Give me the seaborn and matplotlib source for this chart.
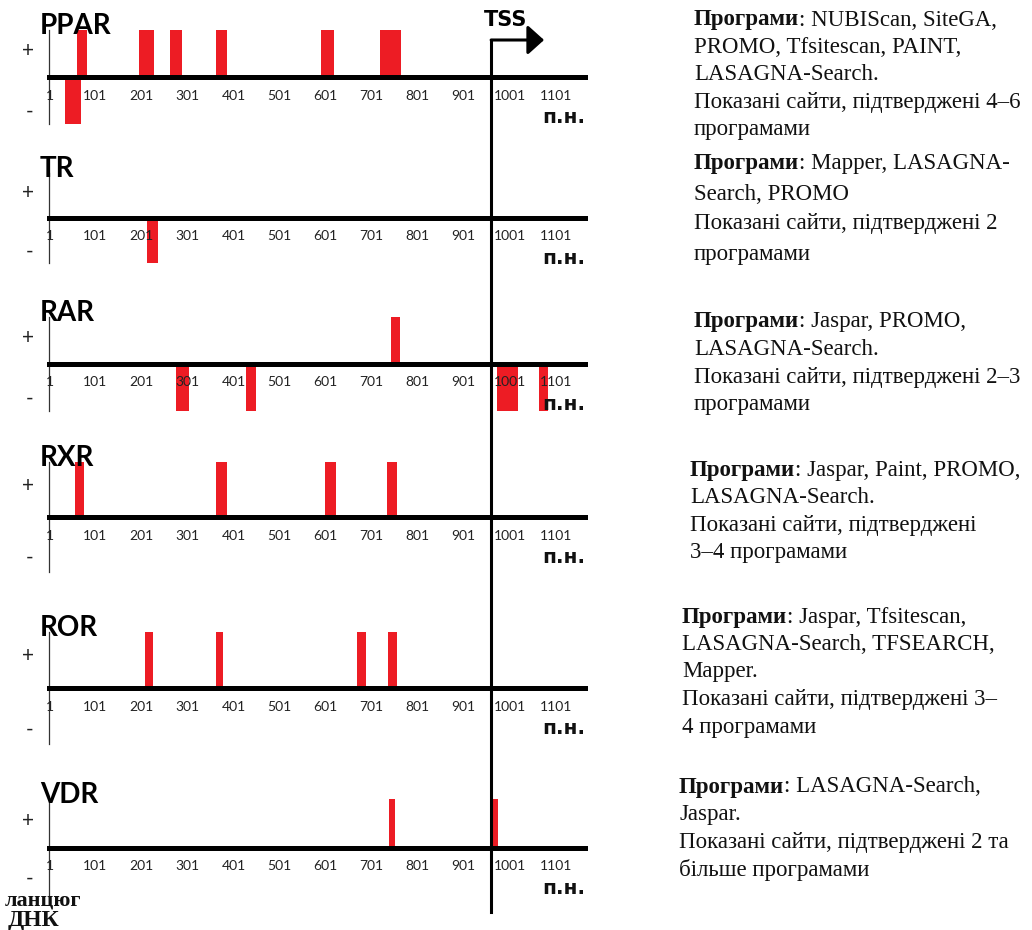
import numpy as np
import matplotlib.pyplot as plt
import seaborn as sns
from matplotlib.lines import Line2D
from matplotlib.transforms import blended_transform_factory

# binding sites: start / end (bp) and strand (+1 above, -1 below)
ppar_start = [61, 196, 263, 363, 591, 720, 35]
ppar_end = [83, 228, 289, 387, 620, 765, 70]
ppar_strand = [1, 1, 1, 1, 1, 1, -1]

tr_start = [213]
tr_end = [237]
tr_strand = [-1]

rar_start = [743, 276, 428, 974, 1065]
rar_end = [763, 305, 450, 1020, 1085]
rar_strand = [1, -1, -1, -1, -1]

rxr_start = [57, 363, 600, 735]
rxr_end = [76, 387, 624, 757]
rxr_strand = [1, 1, 1, 1]

ror_start = [209, 363, 670, 737]
ror_end = [225, 378, 689, 757]
ror_strand = [1, 1, 1, 1]

vdr_start = [739, 963]
vdr_end = [752, 976]
vdr_strand = [1, 1]

receptors = ["PPAR", "TR", "RAR", "RXR", "ROR", "VDR"]
sites = [
    (ppar_start, ppar_end, ppar_strand),
    (tr_start, tr_end, tr_strand),
    (rar_start, rar_end, rar_strand),
    (rxr_start, rxr_end, rxr_strand),
    (ror_start, ror_end, ror_strand),
    (vdr_start, vdr_end, vdr_strand),
]
tick_pos = [1, 101, 201, 301, 401, 501, 601, 701, 801, 901, 1001, 1101]
tss_pos = 961
seq_len = 1165

# program notes on the right
notes_first = [
    ": NUBIScan, SiteGA,",
    ": Mapper, LASAGNA-",
    ": Jaspar, PROMO,",
    ": Jaspar, Paint, PROMO,",
    ": Jaspar, Tfsitescan,",
    ": LASAGNA-Search,",
]
notes_rest = [
    ["PROMO, Tfsitescan, PAINT,", "LASAGNA-Search.", "Показані сайти, підтверджені 4–6", "програмами"],
    ["Search, PROMO", "Показані сайти, підтверджені 2", "програмами"],
    ["LASAGNA-Search.", "Показані сайти, підтверджені 2–3", "програмами"],
    ["LASAGNA-Search.", "Показані сайти, підтверджені", "3–4 програмами"],
    ["LASAGNA-Search, TFSEARCH,", "Mapper.", "Показані сайти, підтверджені 3–", "4 програмами"],
    ["Jaspar.", "Показані сайти, підтверджені 2 та", "більше програмами"],
]

RED = "#ED1C24"
W, H = 1032, 930

sns.set_theme(style="white")
plt.rcParams["font.family"] = ["Lato", "DejaVu Sans"]

fig = plt.figure(figsize=(W / 100, H / 100), dpi=100)

# panel geometry in pixels: top (y=+1) and bottom (y=-1) of each track
panel_top = [30, 173, 317, 462, 632, 799]
panel_bot = [124, 263, 411, 572, 744, 897]
minus_y = [-0.7, -0.7, -0.7, -0.7, -0.7, -0.58]
x_left, x_right = 49, 585

axes = []
for i, name in enumerate(receptors):
    top, bot = panel_top[i], panel_bot[i]
    ax = fig.add_axes([x_left / W, 1 - bot / H, (x_right - x_left) / W, (bot - top) / H])
    ax.patch.set_alpha(0)
    start, end, strand = sites[i]
    ax.bar(start, strand, width=np.array(end) - np.array(start), align="edge",
           color=RED, linewidth=0, zorder=1)
    ax.set_xlim(0, seq_len)
    ax.set_ylim(-1, 1)
    sns.despine(ax=ax)
    ax.spines["bottom"].set_position(("data", 0))
    ax.spines["bottom"].set_linewidth(3.6)
    ax.spines["bottom"].set_color("black")
    ax.spines["left"].set_linewidth(0.9)
    ax.spines["left"].set_color("#333333")
    ax.set_xticks(tick_pos, [str(t) for t in tick_pos])
    ax.tick_params(axis="x", length=0, pad=9, labelsize=10, labelcolor="#222222")
    ax.xaxis.set_zorder(5)
    ax.set_yticks([0.6, minus_y[i]], ["+", "-"])
    ax.tick_params(axis="y", length=0, pad=11, labelsize=15, labelcolor="#222222")
    ax.annotate(name, xy=(0, 1), xycoords="axes fraction", xytext=(-6.5, 3),
                textcoords="offset points", ha="left", va="center", fontsize=20,
                fontweight="bold", color="black")
    ax.annotate("п.н.", xy=(1, 0), xycoords=("axes fraction", "data"), xytext=(0, -29),
                textcoords="offset points", ha="right", va="center", fontsize=14.5,
                fontweight="bold", family="DejaVu Sans", color="#111111")
    axes.append(ax)

# TSS marker crossing all tracks
trans = blended_transform_factory(axes[0].transData, fig.transFigure)
fig.add_artist(Line2D([tss_pos, tss_pos], [1 - 40 / H, 1 - 912 / H], transform=trans,
                      color="black", lw=2.2, solid_capstyle="projecting"))
axes[0].annotate("", xy=(1076, 1 - 40 / H), xycoords=trans, xytext=(tss_pos, 1 - 40 / H),
                 textcoords=trans, annotation_clip=False,
                 arrowprops=dict(arrowstyle="-|>,head_length=0.5,head_width=0.45",
                                 mutation_scale=20, lw=2.2, color="black",
                                 shrinkA=0, shrinkB=0))
axes[0].annotate("TSS", xy=(993, 1 - 20 / H), xycoords=trans, ha="center", va="center",
                 fontsize=15, fontweight="bold", family="DejaVu Sans", color="black",
                 annotation_clip=False)

fig.text(5 / W, 1 - 900 / H, "ланцюг", family="Liberation Serif", fontweight="bold",
         fontsize=16, va="center", ha="left", color="#111111")
fig.text(8 / W, 1 - 920 / H, "ДНК", family="Liberation Serif", fontweight="bold",
         fontsize=17, va="center", ha="left", color="#111111")

# notes
note_x = [694, 694, 694, 690, 682, 679]
note_y = [20, 164, 322, 470, 617, 787]
note_gap = [27.5, 30, 27.5, 27.5, 27.5, 27.5]
for i in range(len(receptors)):
    x0 = note_x[i] / W
    y0 = note_y[i]
    head = fig.text(x0, 1 - y0 / H, "Програми", family="Liberation Serif", fontweight="bold",
                    fontsize=16.5, va="center", ha="left", color="#111111")
    axes[0].annotate(notes_first[i], xy=(1, 0.5), xycoords=head, ha="left", va="center",
                     family="Liberation Serif", fontsize=16.5, color="#111111",
                     annotation_clip=False)
    for j, line in enumerate(notes_rest[i]):
        fig.text(x0, 1 - (y0 + (j + 1) * note_gap[i]) / H, line, family="Liberation Serif",
                 fontsize=16.5, va="center", ha="left", color="#111111")

fig.savefig("out.png", dpi=100)
